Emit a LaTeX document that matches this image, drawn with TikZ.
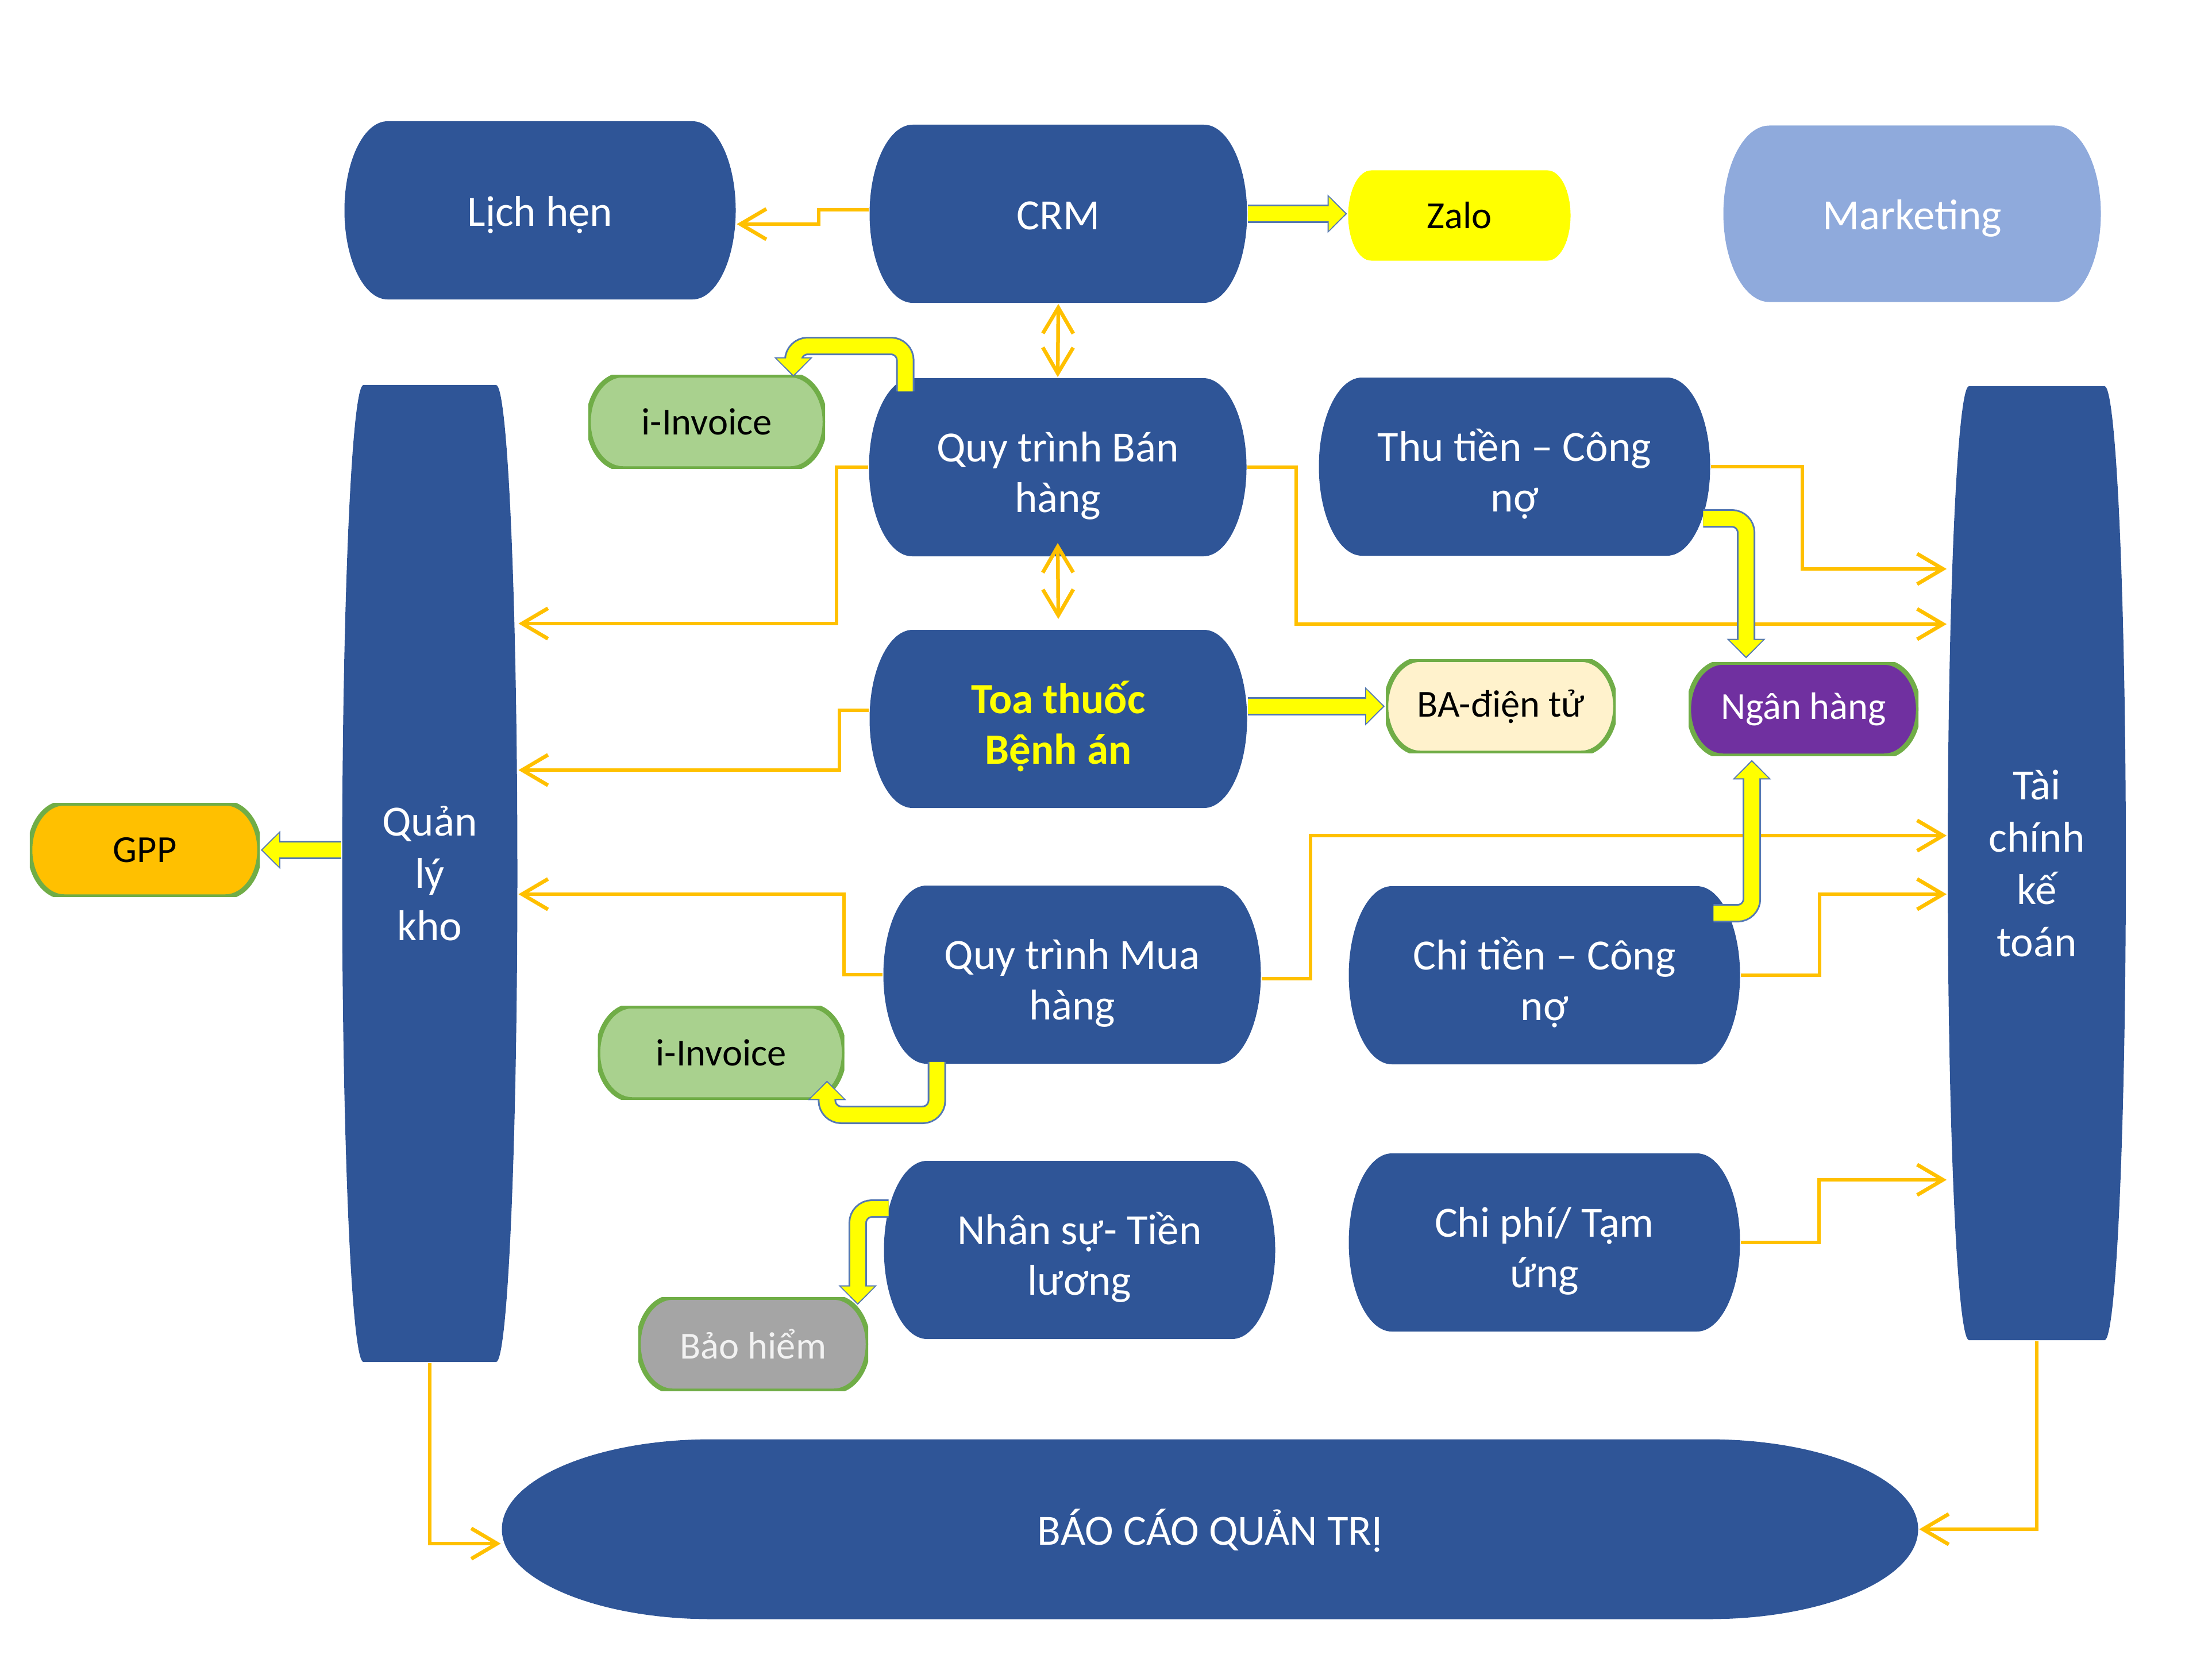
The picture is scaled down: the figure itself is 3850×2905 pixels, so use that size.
\documentclass[tikz,border=0pt]{standalone}
\usepackage{fontspec}
\setmainfont{Carlito}
\usetikzlibrary{arrows.meta}

\definecolor{boxblue}{RGB}{47,85,151}
\definecolor{mktblue}{RGB}{143,170,220}
\definecolor{lineorange}{RGB}{255,192,0}
\definecolor{invgreen}{RGB}{169,209,142}
\definecolor{pillgreen}{RGB}{112,173,71}
\definecolor{cream}{RGB}{255,242,204}
\definecolor{bankpurple}{RGB}{112,48,160}
\definecolor{gpporange}{RGB}{255,192,0}
\definecolor{bhgrey}{RGB}{165,165,165}
\definecolor{bhtext}{RGB}{242,242,242}
\definecolor{zaloyellow}{RGB}{255,255,0}
\definecolor{edgeblue}{RGB}{84,120,180}

% strut that pushes two-line labels down a little
\newcommand{\tophang}{\rule{0pt}{16.5pt}}

\tikzset{every picture/.style={line width=0.75pt}}
\tikzset{
  ovalfill/.style n args={3}{path picture={
    \path[#3] ([xshift=#1]path picture bounding box.south west)
      -- ([xshift=-#1]path picture bounding box.south east)
      arc[start angle=-90, end angle=0, x radius=#1, y radius=#2]
      -- ([yshift=-#2]path picture bounding box.north east)
      arc[start angle=0, end angle=90, x radius=#1, y radius=#2]
      -- ([xshift=#1]path picture bounding box.north west)
      arc[start angle=90, end angle=180, x radius=#1, y radius=#2]
      -- ([yshift=#2]path picture bounding box.south west)
      arc[start angle=180, end angle=270, x radius=#1, y radius=#2]
      -- cycle;}},
  basebox/.style={ovalfill={15pt}{31pt}{fill=boxblue}, minimum width=131.4pt,
    minimum height=62pt, inner sep=0pt, text=white, align=center,
    font=\fontsize{15}{17.6}\selectfont},
  bluebox/.style={basebox, execute at begin node={\rule[-3pt]{0pt}{17pt}}},
  twoline/.style={basebox},
  widetwo/.style={basebox, minimum width=136.2pt},
  widebox/.style={bluebox, minimum width=136.2pt},
  tallbox/.style={basebox, font=\fontsize{15}{18.2}\selectfont},
  pill/.style={ovalfill={12pt}{16.3pt}{fill=#1, draw=pillgreen, line width=1.7pt},
    minimum width=80pt, minimum height=32.6pt, inner sep=0pt, align=center,
    font=\fontsize{13.3}{15}\selectfont},
  conn/.style={draw=lineorange, line width=1.3pt, -{Straight Barb[length=9pt,width=10.6pt]}},
  conn2/.style={conn, {Straight Barb[length=9pt,width=10.6pt]}-{Straight Barb[length=9pt,width=10.6pt]}},
  fatedge/.style={draw=edgeblue, line width=6.4pt, rounded corners=5pt,
    -{Triangle[length=6.8pt,width=13pt]}},
  fatcore/.style={draw=zaloyellow, line width=5.2pt, rounded corners=5pt,
    shorten >=0.6pt, -{Triangle[length=5.8pt,width=11.3pt]}}
}
\newcommand{\fatarrow}[1]{\draw[fatedge] #1; \draw[fatcore] #1;}

\begin{document}
\begin{tikzpicture}[x=0.2pt,y=-0.2pt]
\useasboundingbox (0,0) rectangle (3850,2905);

%Shape: top row
\node[widebox] (lich) at (940,366) {Lịch hẹn};
\node[bluebox] (crm) at (1842,372) {CRM};
\node[pill={zaloyellow}, ovalfill={8pt}{15.7pt}{fill=zaloyellow},
  minimum width=77.4pt, minimum height=31.4pt] (zalo) at (2540,375) {Zalo};
\node[bluebox, ovalfill={16pt}{30.7pt}{fill=mktblue}, minimum height=61.4pt] (mkt) at (3328,372) {Marketing};

%Shape: side columns
\node[tallbox, ovalfill={7.4pt}{170pt}{fill=boxblue}, minimum width=61pt,
  minimum height=340pt] (kho) at (748,1520) {Quản\\lý\\kho};
\node[tallbox, ovalfill={7.4pt}{166pt}{fill=boxblue}, minimum width=62pt,
  minimum height=332pt] (tc) at (3545,1502) {Tài\\chính\\kế\\toán};
\node[pill={gpporange}] (gpp) at (252,1479) {GPP};

%Shape: sales and prescription
\node[pill={invgreen}, minimum width=82.4pt] (inv1) at (1230,734) {i-Invoice};
\node[twoline] (ban) at (1841,813) {\tophang Quy trình Bán\\hàng};
\node[widetwo] (thu) at (2636,812) {\tophang Thu tiền – Công\\nợ};
\node[twoline, text=zaloyellow, font=\fontsize{15}{17.6}\selectfont\bfseries] (toa) at (1842,1251) {\tophang Toa thuốc\\Bệnh án};
\node[pill={cream}] (ba) at (2612,1229) {BA-điện tử};
\node[pill={bankpurple}, text=white] (ngan) at (3139,1234) {Ngân hàng};

%Shape: purchase, payroll, expenses
\node[twoline] (mua) at (1866,1696) {\tophang Quy trình Mua\\hàng};
\node[widetwo] (chi) at (2688,1697) {\tophang Chi tiền – Công\\nợ};
\node[pill={invgreen}, minimum width=85.8pt] (inv2) at (1255,1832) {i-Invoice};
\node[widetwo] (nhan) at (1879,2175) {\tophang Nhân sự- Tiền\\lương};
\node[widetwo] (cp) at (2688,2162) {\tophang Chi phí/ Tạm\\ứng};
\node[pill={bhgrey}, text=bhtext] (bh) at (1311,2339) {Bảo hiểm};

%Shape: report
\node[bluebox, ovalfill={73pt}{31.3pt}{fill=boxblue}, minimum width=493pt,
  minimum height=62.6pt] (bc) at (2106,2661) {BÁO CÁO QUẢN TRỊ};

% thin connectors
\draw[conn] ([yshift=1.4pt]crm.west) -| (1425,390) -- (1425,390 -| lich.east);
\draw[conn2] (crm.south) -- (ban.north);
\draw[conn2] ([yshift=5pt]ban.south) -- ([yshift=3.4pt]toa.north);
\draw[conn] (ban.west) -| (1456,1085) -- (1456,1085 -| kho.east);
\draw[conn] (ban.east) -| (2256,1086) -- (2256,1086 -| tc.west);
\draw[conn] (thu.east) -| (3137,990) -- (3137,990 -| tc.west);
\draw[conn] ([yshift=3pt]toa.west) -| (1461,1340) -- (1461,1340 -| kho.east);
\draw[conn] (mua.west) -| (1469,1556) -- (1469,1556 -| kho.east);
\draw[conn] ([yshift=-1.4pt]mua.east) -| (2281,1454) -- (2281,1454 -| tc.west);
\draw[conn] (chi.east) -| (3167,1556) -- (3167,1556 -| tc.west);
\draw[conn] (cp.east) -| (3166,2053) -- (3166,2053 -| tc.west);
\draw[conn] (tc.south) |- (bc.east);
\draw[conn] (kho.south) |- ([yshift=-5pt]bc.west);

% block arrows
\fatarrow{([xshift=13pt,yshift=-5pt]ban.north west) |- (1480,602) -| ([xshift=-11.4pt,yshift=-1pt]inv1.north east)}
\fatarrow{(crm.east) -- (crm.east -| zalo.west)}
\fatarrow{(ba.west -| toa.east) -- (ba.west)}
\fatarrow{([xshift=-2.8pt,yshift=-18pt]thu.east) -| ([xshift=20.4pt,yshift=1pt]ngan.north west)}
\fatarrow{([xshift=-9.6pt,yshift=-9.8pt]chi.north east) -| ([xshift=22.4pt,yshift=-1pt]ngan.south west)}
\fatarrow{([xshift=19pt,yshift=1pt]mua.south west) |- (1540,1940) -| ([xshift=-6.4pt,yshift=7pt]inv2.south east)}
\fatarrow{([xshift=2pt,yshift=14.4pt]nhan.west) -| ([xshift=-4pt,yshift=-3pt]bh.north east)}
\fatarrow{(kho.west |- gpp.east) -- (gpp.east)}

\end{tikzpicture}
\end{document}
